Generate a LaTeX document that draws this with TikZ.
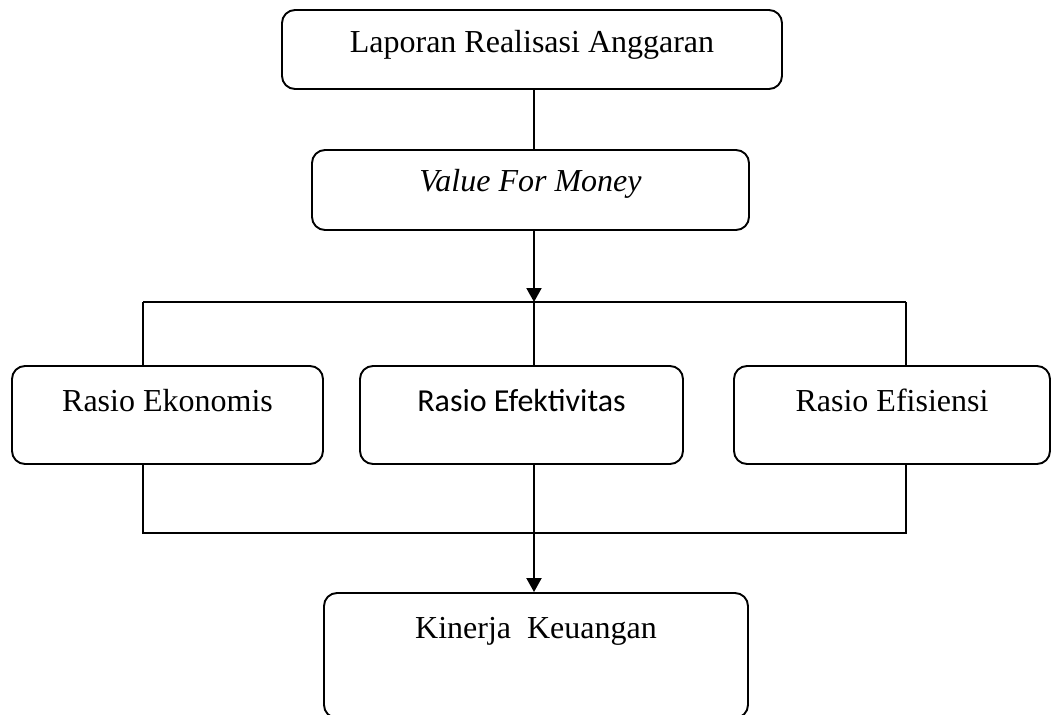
\documentclass[tikz,border=0pt]{standalone}
\usepackage{fontspec}
\setmainfont{Liberation Serif}
\newfontfamily\calibri{Carlito}
\usetikzlibrary{arrows.meta,calc}
\begin{document}
\begin{tikzpicture}[x=1pt,y=-1pt,
  box/.style={draw,line width=1.9pt,rounded corners=13pt,inner sep=0pt},
  lbl/.style={anchor=base,inner sep=0pt,font=\fontsize{32}{38}\selectfont},
  conn/.style={line width=1.4pt},
  arr/.style={line width=2pt,-{Triangle[width=15pt,length=14pt]}}]
\useasboundingbox (0,0) rectangle (1053,715);
% boxes
\node[box,minimum width=500pt,minimum height=79pt] (b1) at (532,49.5) {};
\node[box,minimum width=437pt,minimum height=80pt] (b2) at (530.5,190) {};
\node[box,minimum width=311pt,minimum height=98pt] (b3) at (167.5,415) {};
\node[box,minimum width=323pt,minimum height=98pt] (b4) at (521.5,415) {};
\node[box,minimum width=316pt,minimum height=98pt] (b5) at (892,415) {};
\node[box,minimum width=424pt,minimum height=125pt] (b6) at (536,655.5) {};
% labels
\node[lbl] (t1) at ([yshift=-43pt]b1.north) {Laporan Realisasi Anggaran};
\node[lbl] (t2) at ([yshift=-42pt]b2.north) {\itshape Value For Money};
\node[lbl] (t3) at ([yshift=-46pt]b3.north) {Rasio Ekonomis};
\node[lbl] (t4) at ([yshift=-46pt]b4.north) {\calibri Rasio Efektivitas};
\node[lbl] (t5) at ([yshift=-46pt]b5.north) {Rasio Efisiensi};
\node[lbl] (t6) at ([yshift=-46pt]b6.north) {Kinerja\ \ Keuangan};
% junctions
\coordinate (jt) at (534,302);
\coordinate (jl) at (143,302);
\coordinate (jr) at (906,302);
\coordinate (kb) at (534,533);
\coordinate (kl) at (143,533);
\coordinate (kr) at (906,533);
% connectors
\draw[conn] (b1.south -| jt) -- (b2.north -| jt);
\draw[arr] (b2.south -| jt) -- (jt);
\draw[conn] (jl) -- (jr);
\draw[conn] (jl) -- (jl |- b3.north);
\draw[conn] (jt) -- (jt |- b4.north);
\draw[conn] (jr) -- (jr |- b5.north);
\draw[conn] (kl |- b3.south) -- (kl) -- (kr) -- (kr |- b5.south);
\draw[arr] (kb |- b4.south) -- (kb |- b6.north);
\end{tikzpicture}
\end{document}
